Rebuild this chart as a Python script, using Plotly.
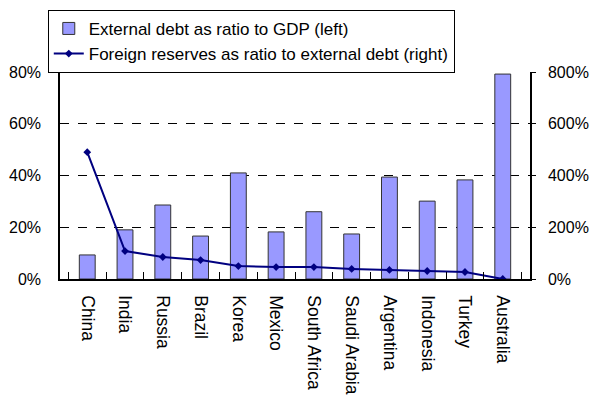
import plotly.graph_objects as go

countries = ["China", "India", "Russia", "Brazil", "Korea", "Mexico", "South Africa",
             "Saudi Arabia", "Argentina", "Indonesia", "Turkey", "Australia"]
debt_gdp = [9.3, 19.0, 28.6, 16.6, 41.0, 18.2, 26.0, 17.4, 39.4, 30.1, 38.3, 79.2]
reserves_debt = [490, 108, 85, 73, 50, 46, 46, 39, 35, 31, 27, 0]

fig = go.Figure()
fig.add_trace(go.Bar(
    x=countries, y=debt_gdp, name="External debt as ratio to GDP (left)",
    marker=dict(color="#9999FF", line=dict(color="#333333", width=1)),
    width=0.42, yaxis="y"))
fig.add_trace(go.Scatter(
    x=countries, y=reserves_debt, name="Foreign reserves as ratio to external debt (right)",
    mode="lines+markers", line=dict(color="#000080", width=2),
    marker=dict(symbol="diamond", size=6, color="#000080"), yaxis="y2"))

font = "Liberation Sans, Arial, sans-serif"
fig.update_layout(
    width=592, height=397,
    margin=dict(l=60, r=62, t=72, b=118, autoexpand=False),
    paper_bgcolor="white", plot_bgcolor="white",
    font=dict(family=font, size=16, color="black"),
    showlegend=True,
    legend=dict(x=-0.026, y=1.3, xanchor="left", yanchor="top",
                bordercolor="black", borderwidth=1, bgcolor="white",
                font=dict(size=17), tracegroupgap=0, itemwidth=30),
    xaxis=dict(type="category", tickangle=90, showline=True, linecolor="black", linewidth=1.5,
               ticks="inside", tickson="boundaries", ticklen=7, tickcolor="black",
               mirror=False, showgrid=False, tickfont=dict(size=17.5),
               ticklabelstandoff=11, automargin=False),
    yaxis=dict(range=[0, 80], tickvals=[0, 20, 40, 60, 80],
               ticktext=["0%", "20%", "40%", "60%", "80%"],
               showline=True, linecolor="black", linewidth=1.5,
               showgrid=True, gridcolor="black", griddash="dash", gridwidth=1,
               zeroline=False, ticks="", ticklabelstandoff=14, automargin=False),
    yaxis2=dict(range=[0, 800], tickvals=[0, 200, 400, 600, 800],
                ticktext=["0%", "200%", "400%", "600%", "800%"],
                overlaying="y", side="right", showline=True, linecolor="black", linewidth=1.5,
                showgrid=False, zeroline=False, ticks="outside", ticklen=4, tickcolor="black",
                ticklabelstandoff=9, automargin=False),
)

fig.write_html("out.html")
